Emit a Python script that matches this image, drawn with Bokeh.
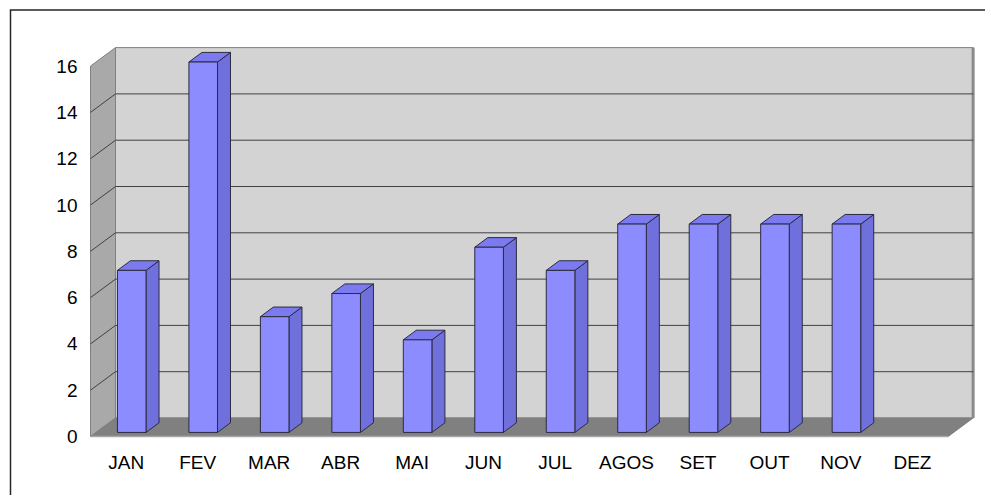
from bokeh.plotting import figure
from bokeh.models import ColumnDataSource
from bokeh.core.properties import value
from bokeh.embed import file_html
from bokeh.resources import INLINE

# ---- data ----
months = ["JAN", "FEV", "MAR", "ABR", "MAI", "JUN", "JUL", "AGOS", "SET", "OUT", "NOV", "DEZ"]
counts = [7, 16, 5, 6, 4, 8, 7, 9, 9, 9, 9, 0]
y_ticks = [0, 2, 4, 6, 8, 10, 12, 14, 16]

# ---- geometry (pixel scale of the data units) ----
W, H = 985, 495
PX_X = 71.47   # px per category slot
PX_Y = 23.15   # px per value unit
x_start = -90 / PX_X
x_end = x_start + W / PX_X
y_end = 436 / PX_Y
y_start = y_end - H / PX_Y

DX = 25 / PX_X      # depth offset (x) of the 3-D box
DY = 18.5 / PX_Y    # depth offset (y)
N = len(months)
YMAX = max(y_ticks)
BAR_W = 0.40
F0, F1 = 0.22, 0.74  # bar front / back depth fractions

FONT = value("Liberation Sans")

p = figure(width=W, height=H, x_range=(x_start, x_end), y_range=(y_start, y_end),
           output_backend="svg", toolbar_location=None,
           x_axis_location=None, y_axis_location=None,
           min_border=0, outline_line_color=None,
           background_fill_color="white", border_fill_color="white")
p.grid.visible = False

# back wall
p.patch([DX, N + DX, N + DX, DX], [DY, DY, YMAX + DY, YMAX + DY],
        fill_color="#d3d3d3", line_color="#808080", line_width=1)
# left wall
p.patch([0, DX, DX, 0], [0, DY, YMAX + DY, YMAX],
        fill_color="#a9a9a9", line_color="#808080", line_width=1)
# floor
p.patch([0, N, N + DX, DX], [0, 0, DY, DY],
        fill_color="#808080", line_color="#808080", line_width=1)
p.line([0, N], [0, 0], line_color="#a6a6a6", line_width=1.5)
# right edge shadow of back wall
p.line([N + DX, N + DX], [DY, YMAX + DY], line_color="#8a8a8a", line_width=3)

# gridlines
grid_vals = [v for v in y_ticks if 0 < v < YMAX]
p.multi_line(xs=[[DX, N + DX] for v in grid_vals],
             ys=[[v + DY, v + DY] for v in grid_vals],
             line_color="#404040", line_width=1)
p.multi_line(xs=[[0, DX] for v in grid_vals],
             ys=[[v, v + DY] for v in grid_vals],
             line_color="#404040", line_width=1)

# bars
front_xs, front_ys, side_xs, side_ys, top_xs, top_ys = [], [], [], [], [], []
ddx, ddy = (F1 - F0) * DX, (F1 - F0) * DY
for i, v in enumerate(counts):
    if v <= 0:
        continue
    xl = i + 0.5 - BAR_W / 2 + F0 * DX
    xr = i + 0.5 + BAR_W / 2 + F0 * DX
    yb = F0 * DY
    yt = v + F0 * DY
    front_xs.append([xl, xr, xr, xl]); front_ys.append([yb, yb, yt, yt])
    side_xs.append([xr, xr + ddx, xr + ddx, xr]); side_ys.append([yb, yb + ddy, yt + ddy, yt])
    top_xs.append([xl, xr, xr + ddx, xl + ddx]); top_ys.append([yt, yt, yt + ddy, yt + ddy])

p.patches(side_xs, side_ys, fill_color="#7070dd", line_color="#2b2b40", line_width=1)
p.patches(top_xs, top_ys, fill_color="#7b7bef", line_color="#2b2b40", line_width=1)
p.patches(front_xs, front_ys, fill_color="#8c8cff", line_color="#2b2b40", line_width=1)

# y tick labels
ysrc = ColumnDataSource(dict(x=[-13 / PX_X] * len(y_ticks), y=y_ticks,
                             t=[str(v) for v in y_ticks]))
p.text(x="x", y="y", text="t", source=ysrc, text_font=FONT, text_font_size="19px",
       text_align="right", text_baseline="middle", text_color="black")

# x category labels
xsrc = ColumnDataSource(dict(x=[i + 0.5 for i in range(N)], y=[-26 / PX_Y] * N, t=months))
p.text(x="x", y="y", text="t", source=xsrc, text_font=FONT, text_font_size="19px",
       text_align="center", text_baseline="middle", text_color="black")

# chart-area border (top and left edges visible in the window)
bx = x_start + 10 / PX_X
by = y_end - 9.5 / PX_Y
p.line([bx, bx, x_end], [y_start, by, by], line_color="#262626", line_width=1.5,
       line_join="miter")

open("out.html", "w").write(file_html(p, INLINE))
